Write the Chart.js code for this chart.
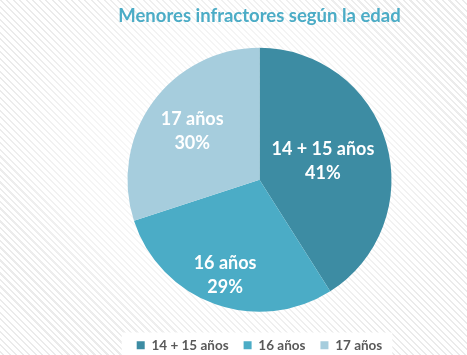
<!DOCTYPE html>
<html>
<head>
<meta charset="utf-8">
<script src="https://cdn.jsdelivr.net/npm/chart.js@4"></script>
<style>
html,body{margin:0;padding:0;}
body{width:467px;height:355px;overflow:hidden;
background:
 radial-gradient(ellipse at 50% 45%, rgba(255,255,255,0.85) 0%, rgba(255,255,255,0.5) 45%, rgba(255,255,255,0) 75%),
 repeating-linear-gradient(45deg, #ffffff 0px, #ffffff 2px, #ebebeb 2px, #ebebeb 3.5px, #ffffff 3.5px, #ffffff 4.6px);}
#wrap{position:absolute;left:0;top:0;width:467px;height:355px;}
</style>
</head>
<body>
<div id="wrap"><canvas id="c" width="467" height="355"></canvas></div>
<script>
const title = 'Menores infractores según la edad';
const categories = ['14 + 15 años', '16 años', '17 años'];
const values = [41, 29, 30];
const colors = ['#3D8CA3', '#4BACC6', '#A6CDDD'];

const legendBg = {
  id: 'legendBg',
  beforeDraw(chart) {
    const lg = chart.legend;
    if (!lg || !lg.legendHitBoxes || !lg.legendHitBoxes.length) return;
    const hb = lg.legendHitBoxes;
    const l = Math.min(...hb.map(h => h.left)) - 15;
    const r = Math.max(...hb.map(h => h.left + h.width)) + 10;
    const top = Math.min(...hb.map(h => h.top)) - 6;
    const ctx = chart.ctx;
    ctx.save();
    ctx.fillStyle = '#ffffff';
    ctx.fillRect(l, top, r - l, chart.height - top);
    ctx.restore();
  }
};

const sliceLabels = {
  id: 'sliceLabels',
  afterDatasetsDraw(chart, args, opts) {
    const ctx = chart.ctx;
    const meta = chart.getDatasetMeta(0);
    const total = values.reduce((a, b) => a + b, 0);
    ctx.save();
    ctx.fillStyle = '#ffffff';
    ctx.font = 'bold 18px Lato, "Liberation Sans", sans-serif';
    ctx.textAlign = 'center';
    ctx.textBaseline = 'middle';
    meta.data.forEach((arc, i) => {
      const p = arc.getProps(['x', 'y', 'startAngle', 'endAngle', 'outerRadius'], true);
      const mid = (p.startAngle + p.endAngle) / 2;
      const r = p.outerRadius * opts.factors[i];
      const cx = p.x + Math.cos(mid) * r;
      const cy = p.y + Math.sin(mid) * r;
      const pct = Math.round(values[i] / total * 100) + '%';
      ctx.fillText(categories[i], cx, cy - 12);
      ctx.fillText(pct, cx, cy + 12);
    });
    ctx.restore();
  }
};

new Chart(document.getElementById('c'), {
  type: 'pie',
  data: {
    labels: categories,
    datasets: [{
      data: values,
      backgroundColor: colors,
      borderWidth: 0,
      radius: 132
    }]
  },
  options: {
    responsive: false,
    animation: false,
    layout: { padding: { left: 52, right: 0, top: 0, bottom: -7 } },
    plugins: {
      tooltip: { enabled: false },
      title: {
        display: true,
        text: title,
        color: '#4BACC6',
        font: { family: 'Lato, "Liberation Sans", sans-serif', size: 18.5, weight: 'bold' },
        padding: { top: 5, bottom: 9 }
      },
      legend: {
        display: true,
        position: 'bottom',
        labels: {
          boxWidth: 8,
          boxHeight: 8,
          padding: 15,
          color: '#595959',
          font: { family: 'Lato, "Liberation Sans", sans-serif', size: 13.5, weight: 'bold' }
        }
      },
      sliceLabels: { factors: [0.5, 0.77, 0.63] }
    }
  },
  plugins: [legendBg, sliceLabels]
});
</script>
</body>
</html>
